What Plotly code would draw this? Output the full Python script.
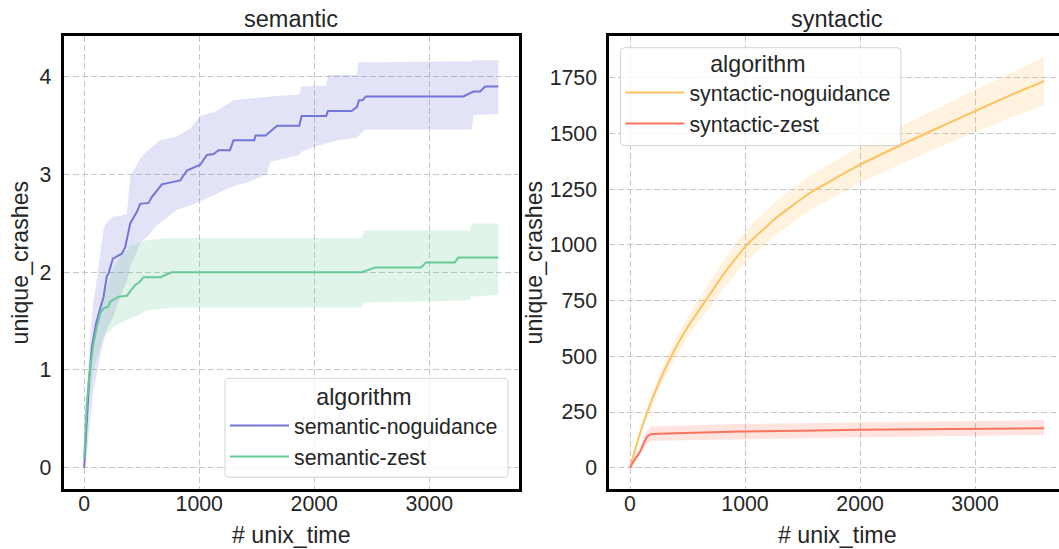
import plotly.graph_objects as go

# ---------------- data ----------------
# semantic / semantic-noguidance: mean curve
sem_ng_t = [0, 23, 43, 67, 104, 139, 168, 197, 212, 249, 327, 357, 400, 458, 487, 559, 588, 675,
            835, 893, 1009, 1067, 1125, 1168, 1267, 1298, 1478, 1490, 1576, 1678, 1870, 1890,
            2104, 2119, 2325, 2370, 2390, 2419, 2449, 3296, 3384, 3442, 3486, 3600]
sem_ng_mean = [0, 0.49, 0.90, 1.24, 1.48, 1.63, 1.75, 1.96, 1.99, 2.14, 2.19, 2.26, 2.50, 2.62,
               2.70, 2.71, 2.77, 2.90, 2.94, 3.04, 3.10, 3.20, 3.21, 3.25, 3.25, 3.35, 3.35, 3.40,
               3.40, 3.50, 3.50, 3.60, 3.60, 3.65, 3.65, 3.69, 3.76, 3.76, 3.80, 3.80, 3.85, 3.85,
               3.90, 3.90]
# semantic-noguidance: confidence band
sem_ng_band_t = [0, 25, 50, 80, 100, 140, 170, 190, 255, 330, 371, 400, 472, 490, 574, 632, 661,
                 806, 920, 1009, 1150, 1298, 1445, 1588, 1620, 1870, 1884, 2017, 2104, 2119, 2208,
                 2370, 2384, 2443, 3370, 3384, 3600]
sem_ng_lo = [0, 0.15, 0.45, 0.80, 0.90, 1.15, 1.30, 1.40, 1.55, 1.80, 1.90, 2.05, 2.25, 2.30, 2.40,
             2.48, 2.50, 2.64, 2.68, 2.72, 2.80, 2.88, 2.93, 3.01, 3.13, 3.20, 3.23, 3.29, 3.32,
             3.33, 3.35, 3.38, 3.39, 3.46, 3.46, 3.61, 3.62]
sem_ng_hi = [0, 0.80, 1.30, 1.70, 1.85, 2.19, 2.45, 2.50, 2.57, 2.58, 2.60, 2.98, 3.13, 3.17, 3.27,
             3.33, 3.35, 3.39, 3.47, 3.60, 3.65, 3.76, 3.78, 3.80, 3.80, 3.82, 3.90, 3.91, 3.91,
             4.02, 4.02, 4.02, 4.15, 4.15, 4.16, 4.17, 4.17]

# semantic-zest
sem_z_t = [0, 23, 52, 81, 110, 139, 168, 210, 226, 299, 371, 400, 443, 473, 516, 661, 762, 2413,
           2531, 2928, 2972, 3222, 3251, 3600]
sem_z_mean = [0.10, 0.66, 1.03, 1.27, 1.44, 1.58, 1.63, 1.65, 1.70, 1.75, 1.76, 1.80, 1.87, 1.89,
              1.95, 1.95, 2.00, 2.00, 2.05, 2.05, 2.10, 2.10, 2.15, 2.15]
sem_z_band_t = [0, 25, 40, 80, 125, 168, 226, 255, 313, 371, 400, 487, 545, 777, 2413, 2428,
                3354, 3364, 3600]
sem_z_lo = [0.0, 0.45, 0.65, 1.00, 1.17, 1.34, 1.40, 1.44, 1.48, 1.51, 1.52, 1.57, 1.61, 1.64,
            1.64, 1.69, 1.71, 1.75, 1.77]
sem_z_hi = [0.2, 0.85, 1.05, 1.30, 1.55, 1.75, 1.96, 2.05, 2.16, 2.22, 2.28, 2.30, 2.33, 2.35,
            2.35, 2.43, 2.43, 2.50, 2.50]

# syntactic-noguidance
syn_ng_t = [0, 75, 150, 250, 359, 500, 657, 830, 1016, 1280, 1570, 2000, 2571, 3000, 3300, 3600]
syn_ng_mean = [0, 135, 250, 380, 500, 630, 750, 880, 1000, 1125, 1235, 1360, 1500, 1600, 1670, 1735]
syn_ng_lo = [0, 123, 228, 348, 462, 585, 695, 815, 928, 1050, 1157, 1280, 1412, 1505, 1570, 1627]
syn_ng_hi = [0, 147, 272, 412, 538, 675, 805, 945, 1072, 1200, 1313, 1440, 1588, 1695, 1770, 1843]

# syntactic-zest
syn_z_t = [0, 45, 87, 145, 170, 188, 319, 957, 2000, 3600]
syn_z_mean = [0, 40, 72, 136, 147, 151, 154, 162, 170, 177]
syn_z_lo = [0, 30, 55, 105, 115, 121, 122, 127, 137, 147]
syn_z_hi = [0, 50, 90, 165, 178, 184, 187, 196, 203, 214]

# tick labels
sem_yticks = [0, 1, 2, 3, 4]
syn_yticks = [0, 250, 500, 750, 1000, 1250, 1500, 1750]
time_ticks = [0, 1000, 2000, 3000]

# ---------------- style ----------------
W, H = 1059, 549
FONT = "Liberation Sans, Arial, Helvetica, sans-serif"
TXT = "#262626"
GRID = "#c6c6c6"

series = [
    # name, colour, t, mean, band_t, lo, hi, axes, legend, line shape
    ("semantic-noguidance", (116, 117, 216), sem_ng_t, sem_ng_mean, sem_ng_band_t, sem_ng_lo, sem_ng_hi, ("x", "y"), "legend", "linear"),
    ("semantic-zest", (104, 201, 152), sem_z_t, sem_z_mean, sem_z_band_t, sem_z_lo, sem_z_hi, ("x", "y"), "legend", "linear"),
    ("syntactic-noguidance", (255, 193, 94), syn_ng_t, syn_ng_mean, syn_ng_t, syn_ng_lo, syn_ng_hi, ("x2", "y2"), "legend2", "spline"),
    ("syntactic-zest", (249, 115, 95), syn_z_t, syn_z_mean, syn_z_t, syn_z_lo, syn_z_hi, ("x2", "y2"), "legend2", "spline"),
]


def rgb(c, a=None):
    if a is None:
        return "rgb(%d,%d,%d)" % c
    return "rgba(%d,%d,%d,%.2f)" % (c + (a,))


fig = go.Figure()

# confidence bands first, so the mean lines sit on top
for name, col, t, m, bt, lo, hi, (xa, ya), lg, shp in series:
    fig.add_trace(go.Scatter(
        x=list(bt) + list(bt)[::-1], y=list(hi) + list(lo)[::-1],
        fill="toself", fillcolor=rgb(col, 0.2), line=dict(width=0),
        mode="lines", hoverinfo="skip", showlegend=False, xaxis=xa, yaxis=ya))

for name, col, t, m, bt, lo, hi, (xa, ya), lg, shp in series:
    line = dict(color=rgb(col), width=2, shape=shp)
    if shp == "spline":
        line["smoothing"] = 0.4
    fig.add_trace(go.Scatter(
        x=t, y=m, mode="lines", name=name, legendgroup=name, legend=lg,
        line=line, xaxis=xa, yaxis=ya))


def px(x):
    return x / W


def py(y):
    return 1 - y / H


axis_common = dict(
    showgrid=True, gridcolor=GRID, gridwidth=1, griddash="6px,3px",
    zeroline=False, showline=True, linecolor="black", linewidth=3,
    tickcolor="rgba(0,0,0,0)",
    tickfont=dict(family=FONT, size=21.3, color=TXT),
)

legend_common = dict(
    xanchor="left", yanchor="top", bgcolor="rgba(0,0,0,0)", borderwidth=0,
    tracegroupgap=0, itemwidth=59,
    font=dict(family=FONT, size=21.4, color=TXT),
    title=dict(text="algorithm", side="top center", font=dict(family=FONT, size=23.2, color=TXT)),
)

ydom = [py(489), py(36)]
fig.update_layout(
    width=W, height=H, margin=dict(l=0, r=0, t=0, b=0),
    paper_bgcolor="white", plot_bgcolor="white", showlegend=True,
    xaxis=dict(domain=[px(63.5), px(519)], range=[-180, 3780], tickvals=time_ticks,
               mirror=True, ticks="", ticklabelstandoff=-7, **axis_common),
    yaxis=dict(domain=ydom, range=[-0.218, 4.418], tickvals=sem_yticks,
               mirror=True, ticks="outside", ticklen=5, **axis_common),
    xaxis2=dict(domain=[px(609.3), 1.0], range=[-180, 3730], tickvals=time_ticks,
                mirror=True, ticks="", ticklabelstandoff=-7, anchor="y2", **axis_common),
    yaxis2=dict(domain=ydom, range=[-95.5, 1937.5], tickvals=syn_yticks,
                mirror=False, ticks="outside", ticklen=5, anchor="x2", **axis_common),
    legend=dict(x=px(225), y=py(375), **legend_common),
    legend2=dict(x=px(620.4), y=py(42), **legend_common),
)


def rounded_box(x0, y0, x1, y1, r):
    pts = [("M", x0 + r, y0), ("L", x1 - r, y0), ("Q", x1, y0, x1, y0 + r), ("L", x1, y1 - r),
           ("Q", x1, y1, x1 - r, y1), ("L", x0 + r, y1), ("Q", x0, y1, x0, y1 - r),
           ("L", x0, y0 + r), ("Q", x0, y0, x0 + r, y0)]
    out = []
    for p in pts:
        cmd, coords = p[0], p[1:]
        xy = []
        for i in range(0, len(coords), 2):
            xy.append("%.5f,%.5f" % (px(coords[i]), py(coords[i + 1])))
        out.append(cmd + " ".join(xy))
    return " ".join(out) + " Z"


# legend frames with rounded corners
for box in [(225, 378.3, 508, 477.3), (620.4, 47.7, 901, 145.7)]:
    fig.add_shape(type="path", xref="paper", yref="paper", path=rounded_box(*box, 4),
                  fillcolor="rgba(255,255,255,0.8)", line=dict(color="#d3d3d3", width=1),
                  layer="above")

# subplot titles and axis titles
texts = [
    ("semantic", 291, 19, 0, 23.5),
    ("syntactic", 837, 19, 0, 23.5),
    ("# unix_time", 291, 535, 0, 23.2),
    ("# unix_time", 837, 535, 0, 23.2),
    ("unique_crashes", 19, 262.5, -90, 23.2),
    ("unique_crashes", 533, 262.5, -90, 23.2),
]
for text, x, y, ang, size in texts:
    fig.add_annotation(text=text, x=px(x), y=py(y), xref="paper", yref="paper",
                       xanchor="center", yanchor="middle", showarrow=False, textangle=ang,
                       font=dict(family=FONT, size=size, color=TXT))

fig.write_html("out.html")
